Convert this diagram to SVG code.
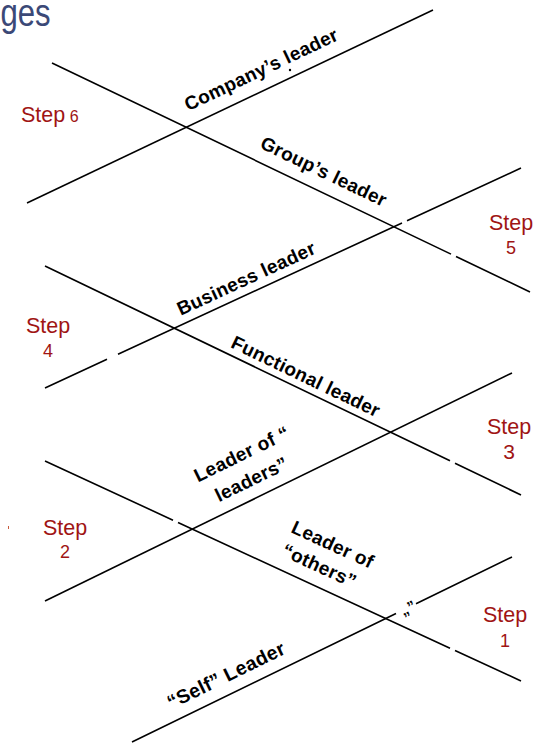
<svg xmlns="http://www.w3.org/2000/svg" width="535" height="743" viewBox="0 0 535 743">
  <style>
    .ln { stroke: #000; stroke-width: 1.6; fill: none; stroke-linecap: butt; }
    .lbl { font-family: "Liberation Sans", Arial, sans-serif; font-weight: bold; font-size: 19px; letter-spacing: 0.3px; fill: #000; text-anchor: middle; }
    .step { font-family: "Liberation Sans", Arial, sans-serif; fill: #a01414; text-anchor: middle; }
    .title { font-family: "Liberation Sans", Arial, sans-serif; font-size: 38px; fill: #3b4977; }
  </style>
  <rect width="535" height="743" fill="#fff"/>

  <text class="title" transform="scale(0.82,1)" x="0.5" y="26">ges</text>

  <!-- crossing guide lines -->
  <g id="connectors">
    <path class="ln" d="M27,203 L433,10"/>
    <path class="ln" d="M52,63 L451,254.15 M456,256.55 L530,292"/>
    <path class="ln" d="M45,388 L107,359.34 M118,354.26 L402,223 M407,220.69 L521,168"/>
    <path class="ln" d="M45,266 L450,460.84 M455,463.28 L521,495"/>
    <path class="ln" d="M45,601 L512,373"/>
    <path class="ln" d="M45,461 L173,520.16 M178,522.47 L450,648.18 M455,650.49 L521,681"/>
    <path class="ln" d="M132,742 L396,613.47 M416,603.74 L512,557"/>
  </g>

  <!-- leadership level labels -->
  <g id="company-leader">
    <text class="lbl" transform="translate(261,69) rotate(-25.4)" y="7">Company’s leader</text>
    <circle cx="290" cy="70" r="1.2" fill="#000"/>
  </g>
  <g id="group-leader">
    <text class="lbl" transform="translate(324,171) rotate(25.6)" y="7">Group’s leader</text>
  </g>
  <g id="business-leader">
    <text class="lbl" transform="translate(246,278) rotate(-24.8)" y="7">Business leader</text>
  </g>
  <g id="functional-leader">
    <text class="lbl" transform="translate(306,376) rotate(25.7)" y="7">Functional leader</text>
  </g>
  <g id="leader-of-leaders">
    <text class="lbl" transform="translate(246,468) rotate(-26)">
      <tspan x="5" y="-8">Leader of “</tspan>
      <tspan x="0" y="19">leaders”</tspan>
    </text>
  </g>
  <g id="leader-of-others">
    <text class="lbl" transform="translate(330,557) rotate(24.8)">
      <tspan x="0" y="-6">Leader of</tspan>
      <tspan x="-6" y="19">“others”</tspan>
    </text>
    <text class="lbl" transform="translate(408,608) rotate(-26)" style="font-size:15px" y="5">„”</text>
  </g>
  <g id="self-leader">
    <text class="lbl" transform="translate(226,675) rotate(-26)" y="7" style="font-size:19.5px">“Self” Leader</text>
  </g>

  <!-- step markers -->
  <g id="step-6">
    <text class="step" x="21" y="122" style="text-anchor:start;font-size:21.5px">Step<tspan style="font-size:16px"> 6</tspan></text>
  </g>
  <g id="step-5">
    <text class="step" x="511" y="230" style="font-size:21.5px">Step</text>
    <text class="step" x="511" y="254" style="font-size:18px">5</text>
  </g>
  <g id="step-4">
    <text class="step" x="48" y="333" style="font-size:21.5px">Step</text>
    <text class="step" x="48" y="357" style="font-size:18px">4</text>
  </g>
  <g id="step-3">
    <text class="step" x="509" y="434" style="font-size:21.5px">Step</text>
    <text class="step" x="509" y="459" style="font-size:21px">3</text>
  </g>
  <g id="step-2">
    <text class="step" x="65" y="535" style="font-size:21.5px">Step</text>
    <text class="step" x="65" y="558" style="font-size:18px">2</text>
    <rect x="8" y="526" width="1" height="3" fill="#c85a3c"/>
  </g>
  <g id="step-1">
    <text class="step" x="505" y="622" style="font-size:21.5px">Step</text>
    <text class="step" x="505" y="647" style="font-size:18px">1</text>
  </g>
</svg>
